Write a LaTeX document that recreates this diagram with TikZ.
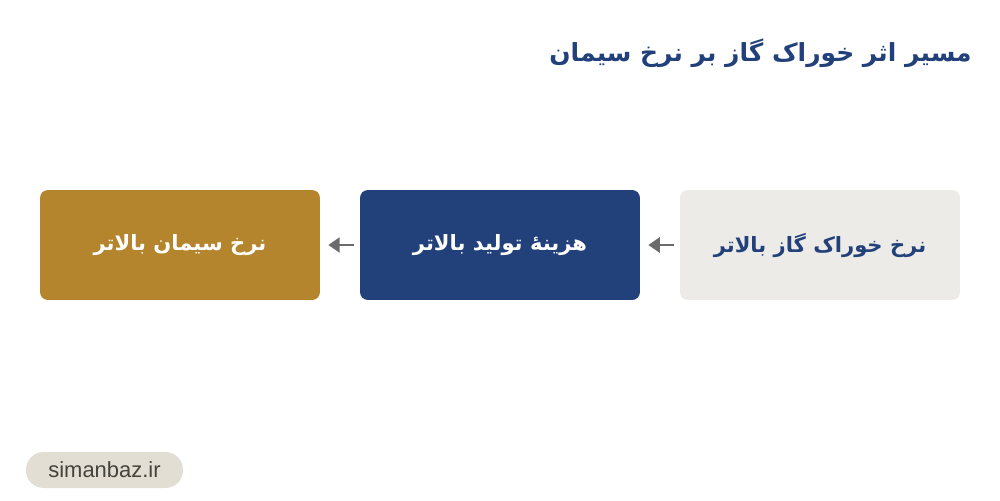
\documentclass[tikz,border=0pt]{standalone}
\usepackage{fontspec}
\setsansfont{Liberation Sans}
\newfontfamily\arabicfont[Script=Arabic]{DejaVu Sans}
\TeXXeTstate=1
\usetikzlibrary{positioning,arrows.meta}
\definecolor{navy}{HTML}{22407A}
\definecolor{gold}{HTML}{B5852E}
\definecolor{lightgray}{HTML}{ECEBE8}
\definecolor{arrowgray}{HTML}{6B6B6B}
\definecolor{pillbg}{HTML}{E2DED3}
\definecolor{pilltext}{HTML}{44443E}
\tikzset{
  flowbox/.style={rounded corners=4.5pt, minimum width=5.6cm, minimum height=2.2cm, inner sep=0pt, font=\arabicfont\bfseries\fontsize{12}{14}\selectfont},
  flowarrow/.style={draw=arrowgray, line width=1.6pt, -{Triangle[length=6.5pt,width=8.5pt]}, shorten <=0.12cm, shorten >=0.16cm}
}
\begin{document}
\begin{tikzpicture}[x=0.02cm,y=-0.02cm]
	\useasboundingbox (0,0) rectangle (1000,500);
	% title
	\node[anchor=east, text=navy, font=\arabicfont\bfseries\fontsize{14.2}{17}\selectfont, inner sep=0pt] (title) at (972,53) {\beginR مسیر اثر خوراک گاز بر نرخ سیمان\endR};
	% boxes
	\node[flowbox, fill=lightgray, text=navy] (feed) at (820,245) {\beginR نرخ خوراک گاز بالاتر\endR};
	\node[flowbox, fill=navy, text=white] (cost) at (500,245) {\beginR هزینهٔ تولید بالاتر\endR};
	\node[flowbox, fill=gold, text=white] (price) at (180,245) {\beginR نرخ سیمان بالاتر\endR};
	% arrows
	\draw[flowarrow] (feed.west) -- (cost.east);
	\draw[flowarrow] (cost.west) -- (price.east);
	% site
	\node[fill=pillbg, rounded corners=10pt, minimum width=3.14cm, minimum height=0.72cm, inner sep=0pt, text=pilltext, font=\sffamily\fontsize{12.5}{15}\selectfont] (site) at (104.5,470) {simanbaz.ir};
\end{tikzpicture}
\end{document}
